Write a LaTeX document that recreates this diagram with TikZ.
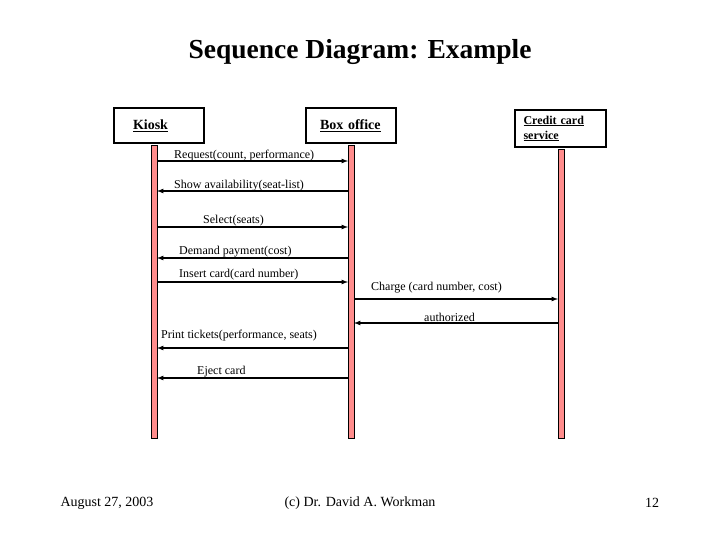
\documentclass[tikz,border=0pt]{standalone}
\usepackage{fontspec}
\setmainfont{Liberation Serif}
\begin{document}
\begin{tikzpicture}[x=1pt,y=-1pt,
 obj/.style={draw,line width=2.5pt,minimum height=35pt,inner sep=2pt,font=\fontsize{14}{14}\selectfont\bfseries},
 life/.style={draw=black,fill=red!45!white,line width=0.6pt},
 msg/.style={line width=1.2pt,-latex},
 lab/.style={font=\fontsize{12}{12}\selectfont,anchor=south west,inner sep=1pt}]
\useasboundingbox (0,0) rectangle (720,540);
\node[font=\fontsize{27.5}{28}\selectfont\bfseries] (title) at (360,52) {Sequence Diagram: Example};
\node[obj,minimum width=90pt,text width=80pt,align=left] (kiosk) at (159,125.5) {\hspace*{14pt}\underline{Kiosk}};
\node[obj,minimum width=90pt,text width=80pt,align=left] (box) at (351,125.5) {\hspace*{9pt}\underline{Box office}};
\node[obj,minimum width=91pt,minimum height=37pt,text width=84pt,align=left,font=\fontsize{12}{15}\selectfont\bfseries] (cc) at (560.5,128.5) {\hspace*{5pt}\underline{Credit card}\\\hspace*{5pt}\underline{service}};
\path[life] (151,145) rectangle (157,438);
\path[life] (348,145) rectangle (354,438);
\path[life] (558,149) rectangle (564,438);
\coordinate (k1) at (157,161); \coordinate (b1) at (348,161);
\coordinate (k2) at (157,191); \coordinate (b2) at (348,191);
\coordinate (k3) at (157,227); \coordinate (b3) at (348,227);
\coordinate (k4) at (157,258); \coordinate (b4) at (348,258);
\coordinate (k5) at (157,282); \coordinate (b5) at (348,282);
\coordinate (b6) at (354,299); \coordinate (c6) at (558,299);
\coordinate (b7) at (354,323); \coordinate (c7) at (558,323);
\coordinate (k8) at (157,348); \coordinate (b8) at (348,348);
\coordinate (k9) at (157,378); \coordinate (b9) at (348,378);
\draw[msg] (k1) -- (b1); \node[lab] (l1) at (173,162) {Request(count, performance)};
\draw[msg] (b2) -- (k2); \node[lab] (l2) at (173,192) {Show availability(seat-list)};
\draw[msg] (k3) -- (b3); \node[lab] (l3) at (202,227) {Select(seats)};
\draw[msg] (b4) -- (k4); \node[lab] (l4) at (178,258) {Demand payment(cost)};
\draw[msg] (k5) -- (b5); \node[lab] (l5) at (178,281) {Insert card(card number)};
\draw[msg] (b6) -- (c6); \node[lab] (l6) at (370,294) {Charge (card number, cost)};
\draw[msg] (c7) -- (b7); \node[lab] (l7) at (423,323) {authorized};
\draw[msg] (b8) -- (k8); \node[lab] (l8) at (160,342) {Print tickets(performance, seats)};
\draw[msg] (b9) -- (k9); \node[lab] (l9) at (196,378) {Eject card};
\node[font=\fontsize{14}{14}\selectfont] (d) at (107,503) {August 27, 2003};
\node[font=\fontsize{14}{14}\selectfont] (a) at (360,503) {(c) Dr. David A. Workman};
\node[font=\fontsize{14}{14}\selectfont] (p) at (652,503) {12};
\end{tikzpicture}
\end{document}
